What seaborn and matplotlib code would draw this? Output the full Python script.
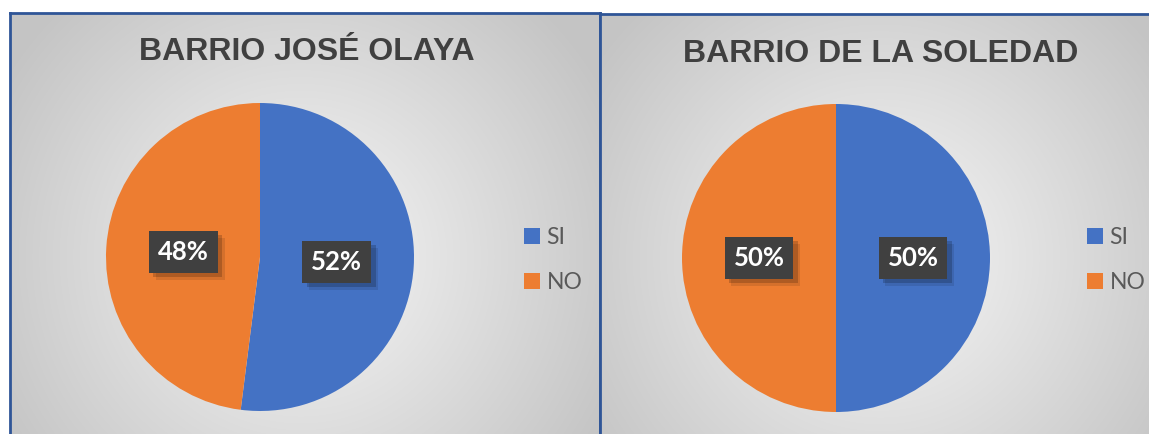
import numpy as np
import matplotlib
matplotlib.use('Agg')
import matplotlib.pyplot as plt
import matplotlib.patheffects as pe
import seaborn as sns

sns.set_theme(style='white')
plt.rcParams['font.family'] = ['Liberation Sans', 'DejaVu Sans']

# datos
categorias = ['SI', 'NO']
olaya = [52, 48]
soledad = [50, 50]
titulos = ['BARRIO JOSÉ OLAYA', 'BARRIO DE LA SOLEDAD']

colores = sns.color_palette(['#4472C4', '#ED7D31'])

W, H = 1149, 434
fig = plt.figure(figsize=(W / 100, H / 100), dpi=100)
fig.patch.set_facecolor('white')


def px_box(x0, y0, w, h):
    # caja en pixeles (origen arriba-izquierda) -> coordenadas de figura
    return [x0 / W, 1 - (y0 + h) / H, w / W, h / H]


def fondo(rect, cx, cy, borde_der=True):
    ax = fig.add_axes(px_box(*rect))
    x0, y0, w, h = rect
    xx, yy = np.meshgrid(np.arange(w), np.arange(h))
    d = np.sqrt((xx + x0 - cx) ** 2 + (yy + y0 - cy) ** 2) / 330.0
    g = np.clip(0.97 - 0.19 * d, 0.77, 0.97)
    ax.imshow(np.dstack([g, g, g]), aspect='auto', extent=[0, 1, 0, 1])
    ax.set_xticks([])
    ax.set_yticks([])
    for lado, sp in ax.spines.items():
        sp.set_color('#2F5597')
        sp.set_linewidth(2)
    ax.spines['bottom'].set_visible(False)
    if not borde_der:
        ax.spines['right'].set_visible(False)
    return ax


def pastel(valores, cx, cy, r, titulo, tx, ty, leg_x, leg_y):
    ax = fig.add_axes(px_box(cx - r, cy - r, 2 * r, 2 * r))
    ax.patch.set_alpha(0)
    wedges, _, autotexts = ax.pie(valores, colors=colores, startangle=90,
                                  counterclock=False, radius=1,
                                  autopct='%1.0f%%', pctdistance=0.5,
                                  wedgeprops=dict(linewidth=0))
    ax.set_xlim(-1, 1)
    ax.set_ylim(-1, 1)
    ax.set_aspect('equal')
    for t in autotexts:
        t.set_family(['Lato', 'DejaVu Sans'])
        t.set_fontweight('bold')
        t.set_fontsize(18.5)
        t.set_color('white')
        t.set_bbox(dict(boxstyle='square,pad=0.35', fc='#404040', ec='none'))
        t.get_bbox_patch().set_path_effects([
            pe.SimplePatchShadow(offset=(3, -3), shadow_rgbFace='black', alpha=0.18),
            pe.SimplePatchShadow(offset=(5, -5), shadow_rgbFace='black', alpha=0.1),
            pe.Normal()])
    fig.text(tx / W, 1 - ty / H, titulo, ha='center', va='center',
             fontsize=23, fontweight='bold', color='#404040')
    leg = fig.legend(wedges, categorias, loc='upper left',
                     bbox_to_anchor=(leg_x / W, 1 - leg_y / H),
                     frameon=False, handlelength=0.7, handleheight=0.7,
                     handletextpad=0.3, labelspacing=1.05,
                     prop={'family': ['Lato', 'DejaVu Sans'], 'size': 16.5})
    for txt in leg.get_texts():
        txt.set_color('#595959')
    return ax


fondo((10, 13, 590, 440), 300, 257)
fondo((600, 14, 560, 440), 880, 258, borde_der=False)

pastel(olaya, 260, 257, 154, titulos[0], 307, 52, 503, 206)
pastel(soledad, 836, 258, 154, titulos[1], 881, 54, 1066, 206)

fig.savefig('out.png', dpi=100)
